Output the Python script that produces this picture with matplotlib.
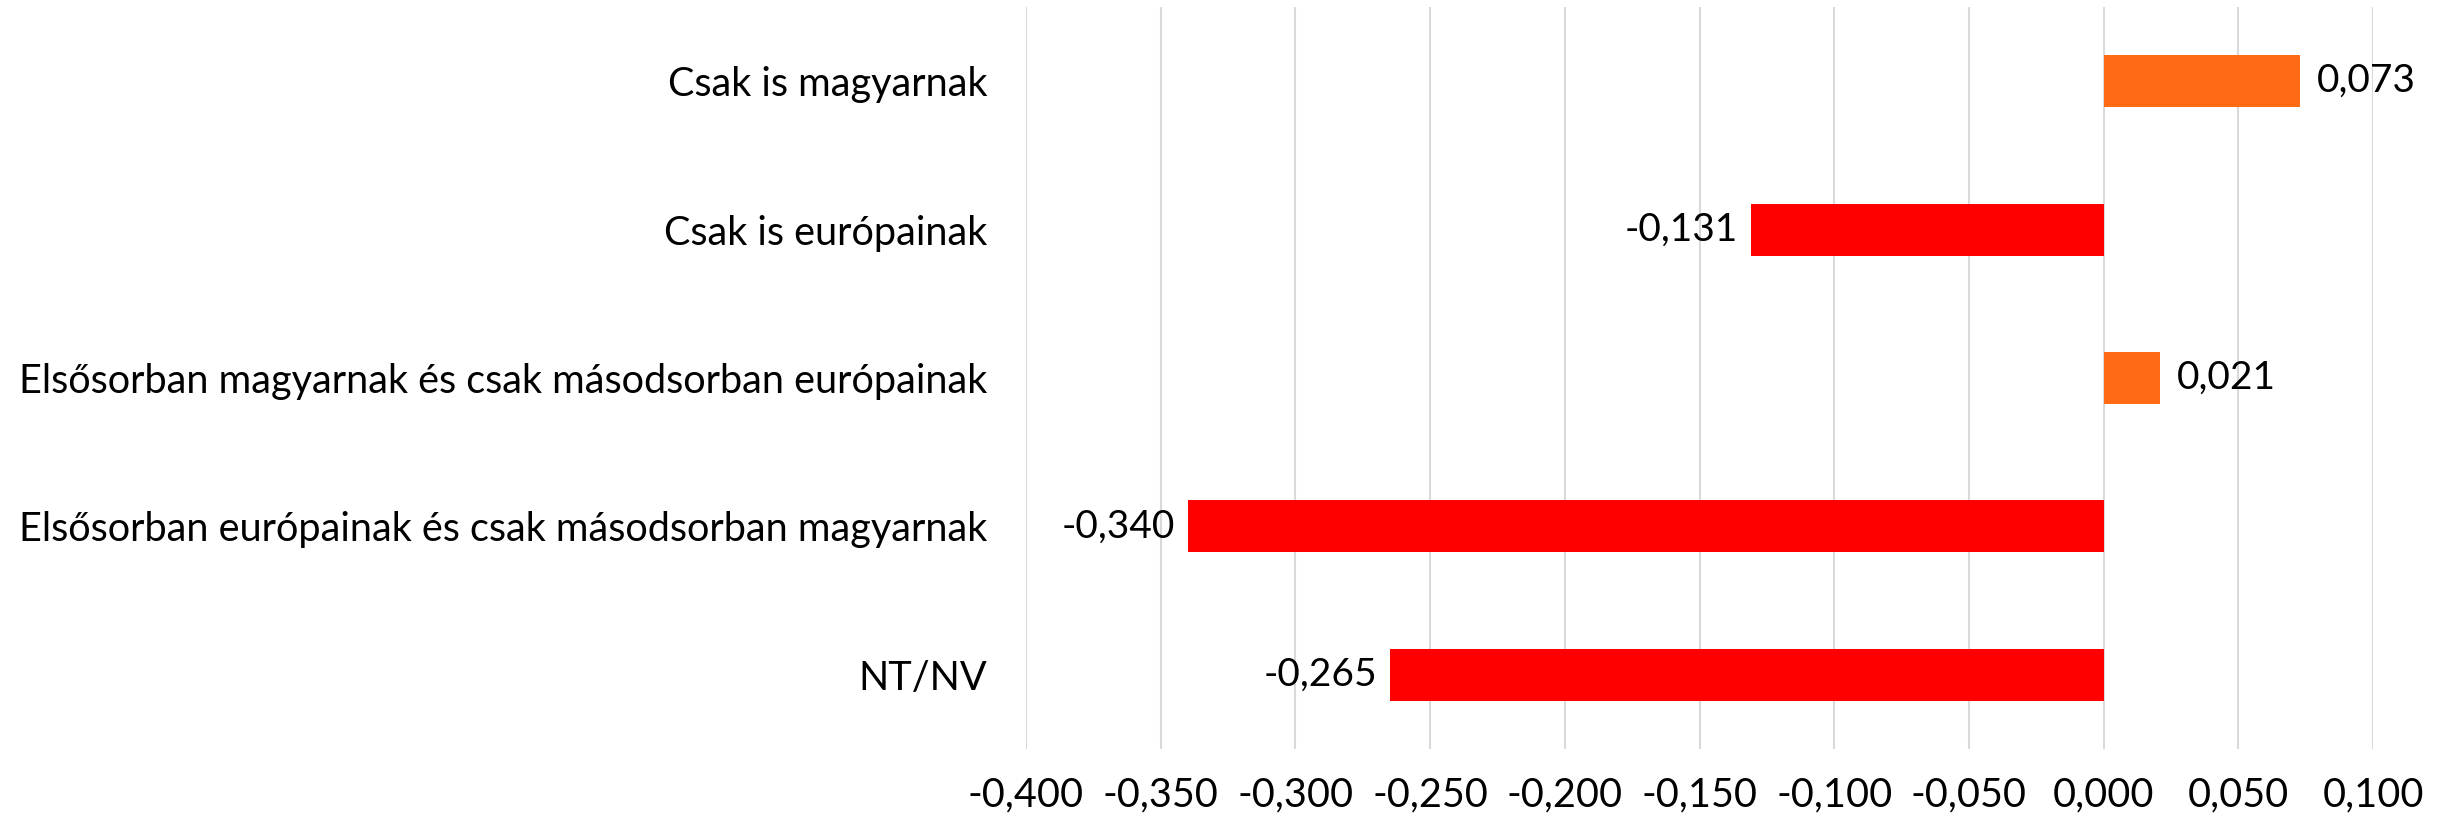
import matplotlib
matplotlib.use("Agg")
import matplotlib.pyplot as plt
from matplotlib.ticker import FuncFormatter, MultipleLocator

categories = [
    "Csak is magyarnak",
    "Csak is európainak",
    "Elsősorban magyarnak és csak másodsorban európainak",
    "Elsősorban európainak és csak másodsorban magyarnak",
    "NT/NV",
]
values = [0.073, -0.131, 0.021, -0.340, -0.265]

plt.rcParams['font.family'] = ['Lato', 'DejaVu Sans']

fig = plt.figure(figsize=(24.48, 8.23), dpi=100)
ax = fig.add_axes([0.4191, 0.0899, 0.5503, 0.9016])

colors = ['#FF6B15' if v > 0 else '#FF0000' for v in values]
ypos = list(range(len(categories)))
bars = ax.barh(ypos, values, height=0.35, color=colors, zorder=3)

ax.set_xlim(-0.4, 0.1)
ax.set_ylim(len(categories) - 0.5, -0.5)
ax.xaxis.set_major_locator(MultipleLocator(0.05))
ax.xaxis.set_major_formatter(FuncFormatter(lambda v, p: f"{v:.3f}".replace(".", ",").replace("-0,000", "0,000")))
ax.set_yticks(ypos)
ax.set_yticklabels(categories)

ax.grid(axis='x', color='#D9D9D9', linewidth=1.5, zorder=0)
for s in ax.spines.values():
    s.set_visible(False)
ax.tick_params(axis='both', length=0, labelsize=28.5, colors='black')
ax.tick_params(axis='x', pad=20)
ax.tick_params(axis='y', pad=28)

for b, v in zip(bars, values):
    txt = f"{v:.3f}".replace(".", ",")
    if v >= 0:
        ax.annotate(txt, (v, b.get_y() + b.get_height() / 2), xytext=(12, 0),
                    textcoords='offset points', ha='left', va='center', fontsize=28)
    else:
        ax.annotate(txt, (v, b.get_y() + b.get_height() / 2), xytext=(-9, 0),
                    textcoords='offset points', ha='right', va='center', fontsize=28)

fig.savefig("out.png", dpi=100)
